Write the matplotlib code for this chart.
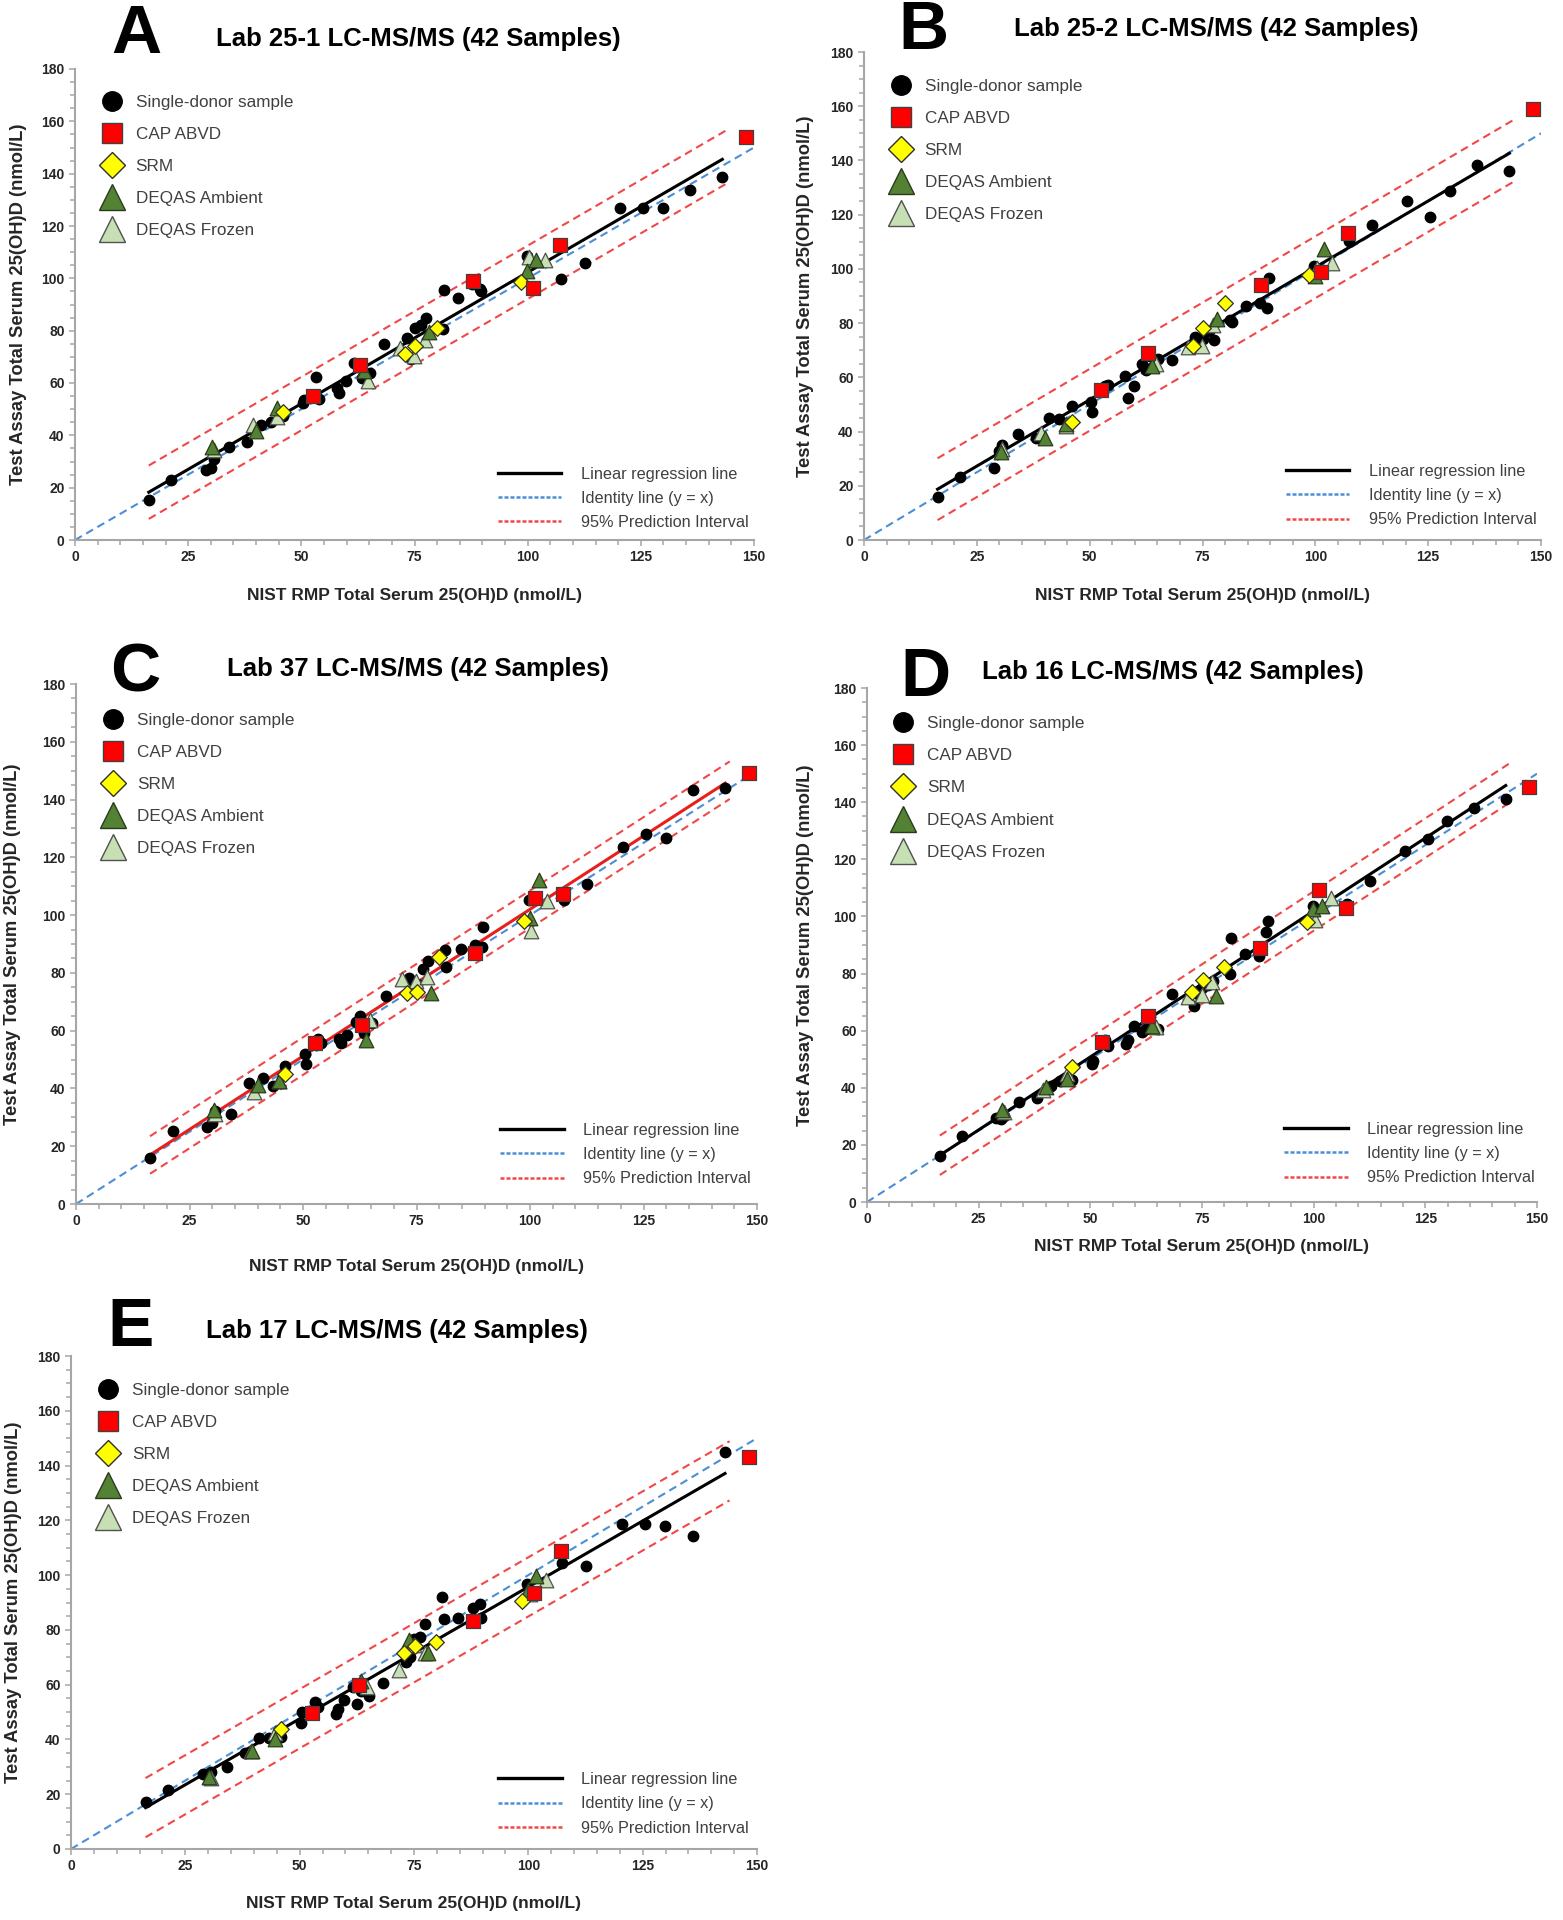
import matplotlib
matplotlib.use("Agg")
import matplotlib.pyplot as plt
from matplotlib.lines import Line2D
from matplotlib.ticker import MultipleLocator

plt.rcParams['font.family'] = ['Liberation Sans', 'DejaVu Sans']

# ---- data ---------------------------------------------------------------
# NIST RMP values (x) shared by all labs
donor_x = [16.3, 21.3, 28.9, 30.0, 30.6, 34.1, 38.1, 41.1, 43.3, 46.0, 50.4, 50.6,
           53.3, 54.0, 57.9, 58.4, 59.8, 61.6, 62.5, 63.4, 65.2, 68.2, 73.3, 74.2,
           75.0, 76.4, 77.5, 81.2, 81.5, 84.7, 87.8, 89.4, 89.7, 99.8, 107.4, 112.6,
           120.4, 125.5, 129.9, 135.9, 143.0]
cap_x = [52.6, 63.0, 87.9, 101.2, 107.2, 148.2]
srm_x = [46.0, 72.8, 75.2, 79.9, 98.6]
ambient_x = [30.3, 40.0, 44.7, 63.8, 78.2, 99.9, 101.9]
ambient_x_e = [30.1, 39.6, 44.5, 63.4, 74.0, 78.0, 100.0, 101.7]
frozen_x = [30.6, 39.3, 44.7, 64.7, 71.8, 74.9, 77.3, 100.3, 103.8]

# test assay values (y), one list per lab
donor_a = [15.1, 22.9, 26.8, 27.4, 30.9, 35.7, 37.4, 44.1, 45.2, 47.5, 52.4, 53.5,
           62.2, 53.9, 58.0, 56.0, 60.6, 67.8, 66.0, 61.8, 64.0, 75.0, 77.1, 69.3,
           81.0, 82.0, 84.8, 80.6, 95.5, 92.6, 97.9, 96.1, 95.2, 108.7, 99.7, 105.9,
           127.0, 127.0, 127.0, 133.6, 138.9]
donor_b = [16.0, 23.3, 26.5, 33.0, 35.2, 39.0, 37.5, 45.1, 44.8, 49.5, 51.0, 47.3,
           56.8, 57.0, 60.4, 52.4, 56.8, 64.8, 62.6, 67.7, 66.6, 66.5, 74.9, 73.5,
           74.2, 77.0, 73.9, 81.2, 80.5, 86.3, 87.3, 85.6, 96.8, 101.1, 110.3, 116.1,
           124.9, 119.0, 128.9, 138.2, 136.2]
donor_c = [16.0, 25.3, 26.8, 28.0, 32.3, 31.1, 41.8, 43.5, 41.0, 47.6, 51.8, 48.6,
           57.0, 55.6, 57.0, 55.6, 58.5, 62.9, 65.0, 59.2, 62.6, 72.0, 78.4, 76.4,
           76.0, 81.5, 84.0, 88.0, 82.2, 88.3, 89.5, 89.0, 96.0, 105.4, 105.1, 110.6,
           123.5, 128.1, 126.6, 143.2, 143.9]
donor_d = [16.0, 23.1, 29.4, 29.0, 30.1, 34.9, 36.3, 40.7, 42.2, 42.6, 48.5, 49.5,
           56.9, 54.7, 55.4, 56.6, 61.6, 59.4, 60.6, 61.0, 60.6, 72.8, 68.7, 73.0,
           75.0, 76.0, 77.5, 80.0, 92.6, 86.9, 86.0, 94.6, 98.5, 103.5, 104.3, 112.5,
           122.8, 127.2, 133.5, 138.1, 141.3]
donor_e = [17.1, 21.5, 27.3, 27.5, 28.0, 30.0, 34.9, 40.4, 40.4, 40.8, 45.9, 50.0,
           53.5, 51.8, 49.3, 51.2, 54.5, 59.3, 53.0, 57.8, 56.0, 60.7, 68.3, 70.0,
           76.5, 77.5, 82.3, 91.9, 83.8, 84.5, 87.9, 89.4, 84.2, 96.8, 104.3, 103.5,
           118.7, 118.7, 118.1, 114.4, 145.1]

cap_a = [55.0, 67.0, 99.0, 96.4, 112.7, 154.0]
cap_b = [55.3, 68.8, 94.1, 98.7, 113.2, 158.9]
cap_c = [55.6, 61.8, 86.9, 105.8, 107.2, 149.2]
cap_d = [55.9, 65.1, 89.0, 109.1, 102.8, 145.4]
cap_e = [49.6, 60.0, 83.2, 93.6, 108.7, 143.3]

srm_a = [49.0, 71.1, 74.3, 81.0, 98.5]
srm_b = [43.4, 71.6, 78.3, 87.3, 97.8]
srm_c = [45.0, 73.0, 73.5, 85.4, 97.8]
srm_d = [47.4, 73.4, 77.8, 82.4, 98.1]
srm_e = [43.7, 71.5, 74.0, 75.6, 90.4]

ambient_a = [35.4, 41.7, 50.5, 64.5, 79.4, 102.9, 107.0]
ambient_b = [32.3, 37.5, 42.9, 64.0, 81.5, 97.5, 107.4]
ambient_c = [32.6, 41.3, 42.5, 56.6, 73.0, 99.0, 112.3]
ambient_d = [32.2, 40.4, 42.9, 61.6, 72.1, 102.5, 103.7]
ambient_e = [26.3, 35.9, 40.0, 61.2, 76.3, 71.5, 94.6, 99.5]

frozen_a = [34.3, 44.1, 47.0, 60.6, 73.4, 70.3, 76.5, 108.0, 107.0]
frozen_b = [33.5, 39.3, 42.2, 64.8, 71.3, 71.6, 79.3, 100.4, 102.2]
frozen_c = [31.1, 38.9, 42.5, 63.6, 77.9, 77.1, 78.6, 94.6, 104.8]
frozen_d = [31.6, 39.3, 44.7, 61.3, 71.9, 72.4, 77.2, 98.7, 106.6]
frozen_e = [26.0, 35.6, 42.3, 59.0, 65.3, 74.6, 71.6, 93.1, 98.3]

# regression slope, intercept and half width of the 95% prediction interval
fit_a = (1.004, 1.9, 10.2)
fit_b = (0.978, 2.8, 11.4)
fit_c = (1.016, 0.4, 6.5)
fit_d = (1.022, -0.3, 6.9)
fit_e = (0.963, -0.6, 10.8)

titles = ['Lab 25-1 LC-MS/MS (42 Samples)', 'Lab 25-2 LC-MS/MS (42 Samples)',
          'Lab 37 LC-MS/MS (42 Samples)', 'Lab 16 LC-MS/MS (42 Samples)',
          'Lab 17 LC-MS/MS (42 Samples)']
letters = ['A', 'B', 'C', 'D', 'E']
x_ticks = [0, 25, 50, 75, 100, 125, 150]
y_ticks = [0, 20, 40, 60, 80, 100, 120, 140, 160, 180]

# ---- layout (pixels of the 1563 x 1920 canvas) --------------------------
W, H = 1563, 1920
boxes = [(75, 754, 69, 540), (864, 1541, 52, 540), (76, 757, 684, 1204),
         (867, 1537, 688, 1202), (71, 757, 1356, 1849)]
title_pos = [(418, 39), (1216, 29), (418, 669), (1173, 672), (397, 1331)]
letter_pos = [(136, 35), (923, 31), (135, 674), (925, 678), (131, 1328)]
xpads = [17, 17, 22, 9, 16.5]
ypads = [10.5, 12, 15, 14, 11]

C_RED = '#ff0000'
C_YEL = '#ffff00'
C_AMB = '#548235'
C_FRO = '#c6e0b4'
C_ID = '#4a8fd6'
C_PI = '#f04848'
C_TXT = '#404040'

fig = plt.figure(figsize=(W / 100, H / 100), dpi=100)

panels = [
    (donor_a, cap_a, srm_a, ambient_x, ambient_a, frozen_a, fit_a, 'black'),
    (donor_b, cap_b, srm_b, ambient_x, ambient_b, frozen_b, fit_b, 'black'),
    (donor_c, cap_c, srm_c, ambient_x, ambient_c, frozen_c, fit_c, '#e8201c'),
    (donor_d, cap_d, srm_d, ambient_x, ambient_d, frozen_d, fit_d, 'black'),
    (donor_e, cap_e, srm_e, ambient_x_e, ambient_e, frozen_e, fit_e, 'black'),
]

for i, (dy, cy, sy, ax_x, ay, fy, fit, regc) in enumerate(panels):
    L, R, T, B = boxes[i]
    ax = fig.add_axes([L / W, 1 - B / H, (R - L) / W, (B - T) / H])
    ax.set_xlim(0, 150)
    ax.set_ylim(0, 180)

    slope, icpt, half = fit
    x0, x1 = min(donor_x), max(donor_x)
    ax.plot([0, 150], [0, 150], color=C_ID, lw=1.5, dashes=(3.8, 2.4), zorder=2)
    ax.plot([x0, x1 + 1], [slope * x0 + icpt + half, slope * (x1 + 1) + icpt + half],
            color=C_PI, lw=1.5, dashes=(3.8, 2.4), zorder=2)
    ax.plot([x0, x1 + 1], [slope * x0 + icpt - half, slope * (x1 + 1) + icpt - half],
            color=C_PI, lw=1.5, dashes=(3.8, 2.4), zorder=2)
    ax.plot([x0, x1], [slope * x0 + icpt, slope * x1 + icpt], color=regc, lw=2.2, zorder=2.5)

    ax.scatter(donor_x, dy, s=7.5 ** 2, c='black', zorder=3)
    ax.scatter(frozen_x, fy, s=10.5 ** 2, marker='^', c=C_FRO, edgecolors='#505050',
               linewidths=0.9, zorder=4)
    ax.scatter(ax_x, ay, s=10.5 ** 2, marker='^', c=C_AMB, edgecolors='#2a3a1c',
               linewidths=0.9, zorder=4)
    ax.scatter(srm_x, sy, s=8 ** 2, marker='D', c=C_YEL, edgecolors='#303030',
               linewidths=0.9, zorder=5)
    ax.scatter(cap_x, cy, s=10.5 ** 2, marker='s', c=C_RED, edgecolors='#404040',
               linewidths=0.9, zorder=5)

    for side in ['top', 'right']:
        ax.spines[side].set_visible(False)
    for side in ['left', 'bottom']:
        ax.spines[side].set_color('#a6a6a6')
        ax.spines[side].set_linewidth(1.5)
    ax.set_xticks(x_ticks)
    ax.set_yticks(y_ticks)
    ax.xaxis.set_minor_locator(MultipleLocator(5))
    ax.yaxis.set_minor_locator(MultipleLocator(5))
    ax.tick_params(which='both', direction='out', color='#a6a6a6', width=1.1)
    ax.tick_params(which='major', length=4, labelsize=10, labelcolor='#262626')
    ax.tick_params(which='minor', length=3.5)
    for lab in ax.get_xticklabels() + ax.get_yticklabels():
        lab.set_fontweight('bold')

    ax.set_xlabel('NIST RMP Total Serum 25(OH)D (nmol/L)', fontsize=12.5,
                  fontweight='bold', color='#262626', labelpad=xpads[i])
    ax.set_ylabel('Test Assay Total Serum 25(OH)D (nmol/L)', fontsize=13.2,
                  fontweight='bold', color='#262626', labelpad=ypads[i])

    # legend with marker symbols
    h1 = [Line2D([], [], ls='none', marker='o', ms=14, mfc='black', mec='black'),
          Line2D([], [], ls='none', marker='s', ms=15, mfc=C_RED, mec='#404040', mew=1),
          Line2D([], [], ls='none', marker='D', ms=13, mfc=C_YEL, mec='#303030', mew=1),
          Line2D([], [], ls='none', marker='^', ms=19, mfc=C_AMB, mec='#2a3a1c', mew=1),
          Line2D([], [], ls='none', marker='^', ms=19, mfc=C_FRO, mec='#505050', mew=1)]
    leg1 = ax.legend(h1, ['Single-donor sample', 'CAP ABVD', 'SRM', 'DEQAS Ambient',
                          'DEQAS Frozen'],
                     loc='upper left', bbox_to_anchor=(0.034, 0.945), frameon=False,
                     fontsize=12.3, labelcolor=C_TXT, borderpad=0, borderaxespad=0,
                     handlelength=1.6, handletextpad=0.6, labelspacing=1.0)
    ax.add_artist(leg1)

    # legend with line styles
    h2 = [Line2D([], [], color='black', lw=2.4),
          Line2D([], [], color=C_ID, lw=1.8, dashes=(1.6, 0.8)),
          Line2D([], [], color=C_PI, lw=1.8, dashes=(1.6, 0.8))]
    ax.legend(h2, ['Linear regression line', 'Identity line (y = x)',
                   '95% Prediction Interval'],
              loc='upper left', bbox_to_anchor=(0.623, 0.156), frameon=False,
              fontsize=11.7, labelcolor=C_TXT, borderpad=0, borderaxespad=0,
              handlelength=3.9, handletextpad=1.2, labelspacing=0.57)

    tx, ty = title_pos[i]
    fig.text(tx / W, 1 - ty / H, titles[i], fontsize=18.5, fontweight='bold',
             ha='center', va='center', color='black')
    lx, ly = letter_pos[i]
    fig.text(lx / W, 1 - ly / H, letters[i], fontsize=50, fontweight='bold',
             ha='center', va='center', color='black')

fig.savefig('out.png', dpi=100)
